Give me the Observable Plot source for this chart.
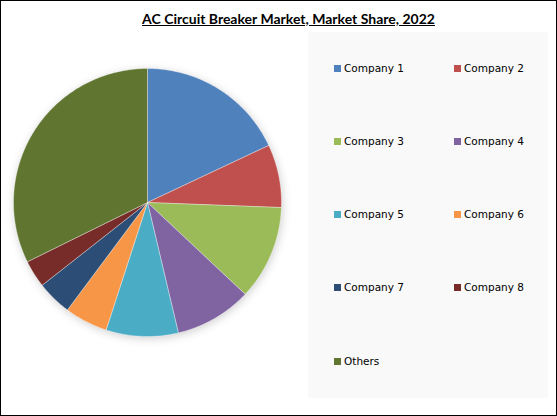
<!DOCTYPE html>
<html>
<head>
<meta charset="utf-8">
<script src="https://cdn.jsdelivr.net/npm/d3@7"></script>
<script src="https://cdn.jsdelivr.net/npm/@observablehq/plot@0.6"></script>
<style>
  html, body { margin: 0; padding: 0; background: #fff; }
  #chart { position: relative; width: 557px; height: 416px; box-sizing: border-box; border: 1px solid #000; background: #fff; overflow: hidden; }
  #title { position: absolute; top: 9px; left: 0; width: 575px; text-align: center; font-family: Lato, "Liberation Sans", sans-serif; font-weight: bold; font-size: 14px; text-decoration: underline; color: #000; }
  #pie { position: absolute; left: 6px; top: 60.5px; }
  #pie svg { filter: drop-shadow(1px 2px 4px rgba(0,0,0,0.18)); overflow: visible; }
  #legend { position: absolute; left: 307px; top: 31px; width: 240px; height: 366px; background: #f9f9f9; }
  .item { position: absolute; font-family: "DejaVu Sans", Verdana, sans-serif; font-size: 10.5px; color: #000; white-space: nowrap; line-height: 12px; }
  .sw { display: inline-block; width: 7px; height: 7px; margin-right: 3px; vertical-align: 0px; }
</style>
</head>
<body>
<div id="chart">
  <div id="title">AC Circuit Breaker Market, Market Share, 2022</div>
  <div id="pie"></div>
  <div id="legend"></div>
</div>
<script>
const companies = ["Company 1", "Company 2", "Company 3", "Company 4", "Company 5", "Company 6", "Company 7", "Company 8", "Others"];
const shares = [18.0, 7.6, 11.4, 9.3, 8.7, 5.2, 4.2, 3.3, 32.3];
const colors = ["#4F81BD", "#C0504D", "#9BBB59", "#8064A2", "#4BACC6", "#F79646", "#2C4D75", "#772C2A", "#5F7530"];

// Build slice outlines (unit circle, clockwise from 12 o'clock) from the shares
const total = d3.sum(shares);
const pts = [];
let acc = 0;
companies.forEach((name, i) => {
  const a0 = acc / total * 2 * Math.PI;
  acc += shares[i];
  const a1 = acc / total * 2 * Math.PI;
  pts.push({name, x: 0, y: 0});
  const n = Math.max(2, Math.ceil((a1 - a0) / (Math.PI / 180)));
  for (let k = 0; k <= n; k++) {
    const a = a0 + (a1 - a0) * k / n;
    pts.push({name, x: Math.sin(a), y: Math.cos(a)});
  }
  pts.push({name, x: 0, y: 0});
});

const pie = Plot.plot({
  width: 280, height: 280,
  margin: 6,
  x: {domain: [-1, 1], axis: null},
  y: {domain: [-1, 1], axis: null},
  color: {domain: companies, range: colors},
  marks: [
    Plot.line(pts, {x: "x", y: "y", z: "name", fill: "name", stroke: "#ffffff", strokeOpacity: 0.6, strokeWidth: 0.6, curve: "linear-closed"})
  ]
});
document.getElementById("pie").appendChild(pie);

// Legend (2 columns)
const legend = document.getElementById("legend");
companies.forEach((name, i) => {
  const col = i % 2, row = Math.floor(i / 2);
  const el = document.createElement("div");
  el.className = "item";
  el.style.left = (col === 0 ? 26 : 146) + "px";
  el.style.top = (29.5 + row * 73.3) + "px";
  el.innerHTML = `<span class="sw" style="background:${colors[i]}"></span>${name}`;
  legend.appendChild(el);
});
</script>
</body>
</html>
